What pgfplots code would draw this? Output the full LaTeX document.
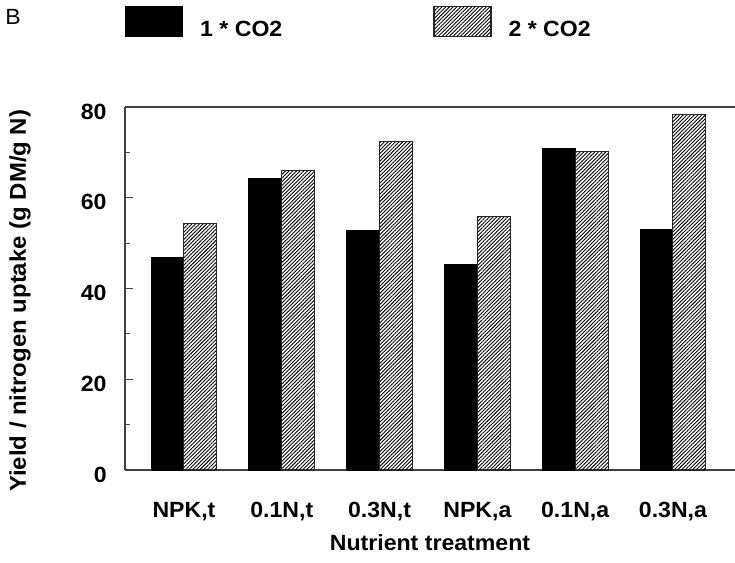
\documentclass[border=0pt]{standalone}
\usepackage{pgfplots}
\pgfplotsset{compat=1.18}
\usepackage{fontspec}
\setmainfont{Liberation Sans}[FakeStretch=1.05]
\usetikzlibrary{patterns.meta}

\begin{document}
\begin{tikzpicture}
\begin{axis}[
  at={(0pt,0pt)}, anchor=south west,
  scale only axis, width=305pt, height=181.5pt,
  xmin=-0.603, xmax=5.634, ymin=0, ymax=80,
  ybar=0pt, bar width=0.337,
  axis x line=box, axis y line=left,
  axis line style={-, draw=black!75, line width=0.7pt},
  x axis line style={-}, y axis line style={-},
  every outer x axis line/.append style={-},
  every outer y axis line/.append style={-},
  xtick=data,
  xticklabels={{NPK,t},{0.1N,t},{0.3N,t},{NPK,a},{0.1N,a},{0.3N,a}},
  xtick style={draw=none},
  ytick={0,20,40,60,80},
  minor ytick={10,30,50,70},
  tick align=inside,
  major tick length=4pt, minor tick length=2.5pt,
  ytick style={draw=black!75, line width=0.6pt},
  minor y tick style={draw=black!75, line width=0.6pt},
  /pgf/number format/assume math mode=true,
  tick label style={font=\fontsize{11}{13}\selectfont\bfseries},
  yticklabel style={anchor=east, inner sep=0pt, xshift=-9pt, yshift=-2.25pt},
  xticklabel style={anchor=base, inner sep=0pt, yshift=-23.5pt},
  xlabel={Nutrient treatment},
  ylabel={Yield / nitrogen uptake (g DM/g N)},
  label style={font=\fontsize{11}{13}\selectfont\bfseries},
  xlabel style={at={(axis description cs:0.5,0)}, anchor=base, inner sep=0pt, yshift=-40pt},
  ylabel style={at={(axis description cs:-0.1623,0.466)}, anchor=base, inner sep=0pt, font=\fontsize{11.4}{13}\selectfont\bfseries},
  legend columns=2,
  legend image code/.code={\draw[#1, line width=0.6pt] (0pt,0pt) rectangle (28.5pt,15pt);},
  legend style={draw=none, fill=none, at={(axis description cs:0,1)}, anchor=south west,
    yshift=33.75pt, inner sep=0pt, outer sep=0pt, row sep=0pt,
    font=\fontsize{11}{13}\selectfont\bfseries,
    nodes={inner sep=0pt, anchor=base west},
    /tikz/every odd column/.append style={column sep=8.5pt},
    /tikz/every even column/.append style={column sep=75.5pt}},
]
\addplot[fill=black, draw=black, line width=0.5pt] coordinates {(0,46.9) (1,64.2) (2,52.7) (3,45.3) (4,70.8) (5,53.0)};
\addplot[pattern={Lines[angle=45,distance=1.3pt,line width=0.45pt]}, draw=black!85, line width=0.5pt] coordinates {(0,54.3) (1,66.1) (2,72.3) (3,55.8) (4,70.1) (5,78.4)};
\legend{1 * CO2, 2 * CO2}
\end{axis}
\node[anchor=base west, inner sep=0pt, font=\fontsize{11}{13}\selectfont] at (-60pt,222.5pt) {B};
\pgfresetboundingbox
\useasboundingbox (-62.5pt,-46.5pt) rectangle (305pt,235pt);
\end{tikzpicture}
\end{document}
